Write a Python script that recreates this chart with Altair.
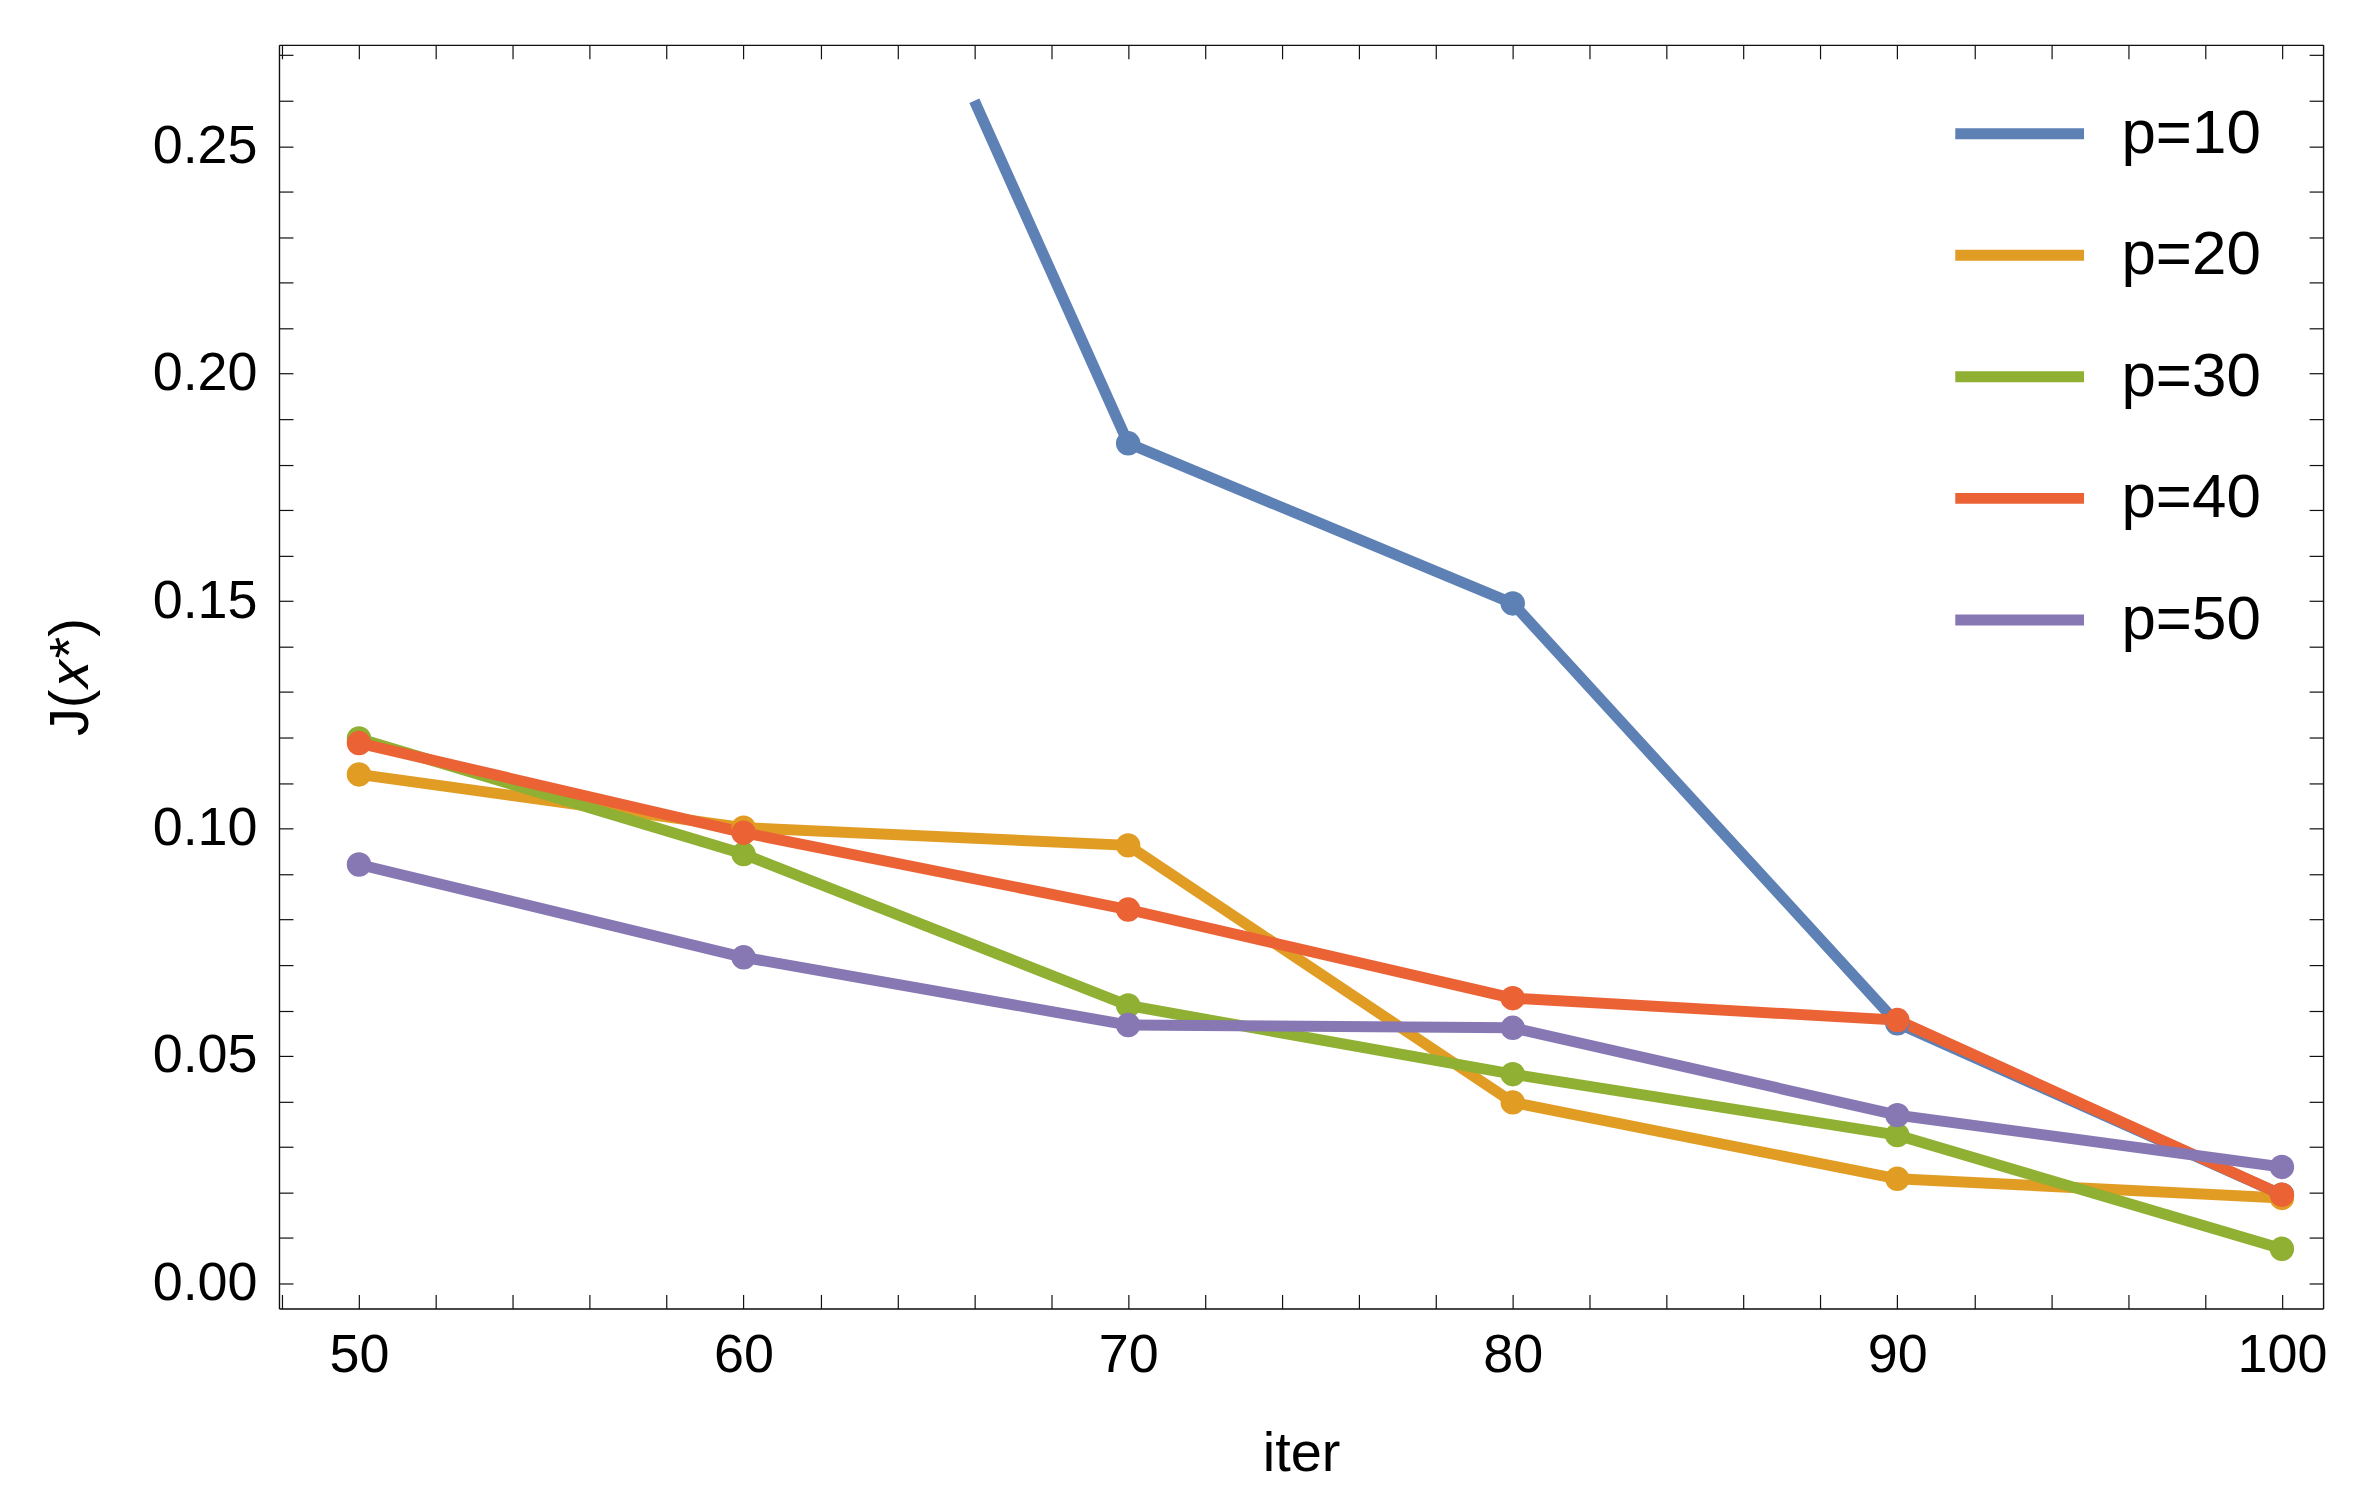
import altair as alt
import pandas as pd

# ---------------- data ----------------
iters = [50, 60, 70, 80, 90, 100]
series_names = ["p=10", "p=20", "p=30", "p=40", "p=50"]
p10 = [None, 0.373, 0.1847, 0.1495, 0.0572, 0.0195]
p20 = [0.1119, 0.1002, 0.0963, 0.0398, 0.0230, 0.0188]
p30 = [0.1198, 0.0944, 0.0611, 0.0460, 0.0326, 0.0076]
p40 = [0.1188, 0.0991, 0.0822, 0.0627, 0.0579, 0.0195]
p50 = [0.0921, 0.0717, 0.0568, 0.0562, 0.0370, 0.0256]
series_values = [p10, p20, p30, p40, p50]

x_ticks = list(range(48, 101, 2))
y_ticks = [round(i * 0.01, 2) for i in range(0, 28)]

# ---------------- styling ----------------
colors = ["#5E81B5", "#E19C24", "#8FB032", "#EB6235", "#8778B3"]
FONT = "Liberation Sans"
plot_range_top = 0.26          # lines are clipped at this value (plot range)
x_domain = [47.92, 101.07]
y_domain = [-0.0055, 0.2723]
W, H = 2048, 1266


def clip_top(xs, ys, top):
    """Clip a polyline at y = top, returning the visible vertices."""
    pts = [(x, y) for x, y in zip(xs, ys) if y is not None]
    out = []
    for (x0, y0), (x1, y1) in zip(pts, pts[1:]):
        if y0 > top and y1 > top:
            continue
        a = (x0, y0) if y0 <= top else (x0 + (y0 - top) / (y0 - y1) * (x1 - x0), top)
        b = (x1, y1) if y1 <= top else (x0 + (top - y0) / (y1 - y0) * (x1 - x0), top)
        for p in (a, b):
            if not out or out[-1] != p:
                out.append(p)
    return out


line_rows, point_rows = [], []
for name, vals in zip(series_names, series_values):
    for k, (x, y) in enumerate(clip_top(iters, vals, plot_range_top)):
        line_rows.append({"series": name, "iter": x, "J": y, "k": k})
    for x, y in zip(iters, vals):
        if y is not None and y <= plot_range_top:
            point_rows.append({"series": name, "iter": x, "J": y})

line_df = pd.DataFrame(line_rows)
point_df = pd.DataFrame(point_rows)

xs = alt.Scale(domain=x_domain, nice=False, zero=False)
ys = alt.Scale(domain=y_domain, nice=False, zero=False)
cscale = alt.Scale(domain=series_names, range=colors)

tick_in = {"expr": "-14"}
frame = dict(tickSize=tick_in, tickColor="#111111", tickWidth=1.2, grid=False,
             domain=True, domainColor="#111111", domainWidth=1.4, zindex=1)
common_axis = dict(
    labelFont=FONT, labelFontSize=54, labelColor="black", labelOverlap=False,
    labelFlush=False, titleFont=FONT, titleFontSize=56, titleFontWeight="normal",
    titleColor="black", **frame,
)

x_bottom = alt.Axis(
    orient="bottom", values=x_ticks, title="iter",
    labelExpr="datum.value % 10 === 0 ? toString(datum.value) : ''",
    labelPadding=34, titleX=W / 2, titleY=162, titleBaseline="alphabetic",
    titleAlign="center", **common_axis,
)
y_left = alt.Axis(
    orient="left", values=y_ticks, title="J(𝑥*)",
    labelExpr="round(datum.value * 100) % 5 === 0 ? format(datum.value, '.2f') : ''",
    labelPadding=36, titleAngle=270, titleX=-192, titleY=H / 2,
    titleBaseline="alphabetic", titleAlign="center", **common_axis,
)
x_top = alt.Axis(orient="top", values=x_ticks, labels=False, title=None, **frame)
y_right = alt.Axis(orient="right", values=y_ticks, labels=False, title=None, **frame)

legend = alt.Legend(
    orient="none", legendX=1674, legendY=29, title=None, symbolType="stroke",
    symbolSize=16641, symbolStrokeWidth=11, labelFont=FONT, labelFontSize=62,
    labelColor="black", clipHeight=120, rowPadding=1.8, padding=0, labelOffset=32,
)

lines = alt.Chart(line_df).mark_line(strokeWidth=11, clip=True).encode(
    x=alt.X("iter:Q", scale=xs, axis=x_bottom),
    y=alt.Y("J:Q", scale=ys, axis=y_left),
    color=alt.Color("series:N", scale=cscale, sort=series_names, legend=legend),
    order=alt.Order("k:Q"),
)

points = alt.Chart(point_df).mark_circle(size=600, opacity=1, clip=True).encode(
    x=alt.X("iter:Q", scale=xs, axis=x_top),
    y=alt.Y("J:Q", scale=ys, axis=y_right),
    color=alt.Color("series:N", scale=cscale, sort=series_names, legend=None),
)

chart = (
    alt.layer(lines, points)
    .resolve_axis(x="independent", y="independent")
    .properties(
        width=W, height=H,
        autosize=alt.AutoSizeParams(type="none"),
        padding={"left": 271.5, "top": 35.5, "right": 40, "bottom": 180},
    )
    .configure_view(strokeWidth=0)
    .configure(font=FONT, background="white")
)

chart.save("out.html", embed_options={"renderer": "svg", "actions": False})
